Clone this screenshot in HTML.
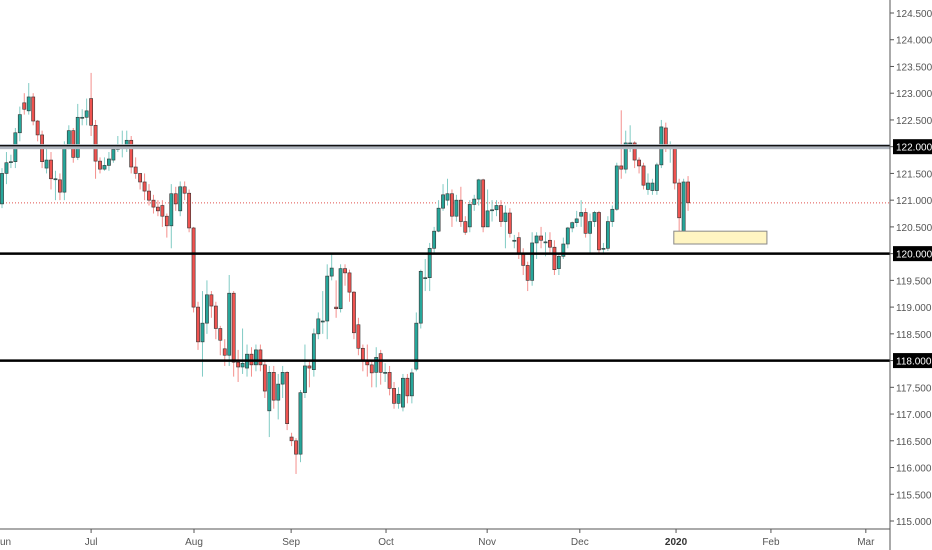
<!DOCTYPE html>
<html><head><meta charset="utf-8">
<style>
html,body{margin:0;padding:0;background:#fff;}
svg{display:block;font-family:"Liberation Sans",sans-serif;}
</style></head>
<body>
<svg id="chart" width="932" height="550" viewBox="0 0 932 550" xmlns="http://www.w3.org/2000/svg">
<rect x="0" y="0" width="932" height="550" fill="#ffffff"/>
<g id="candles"></g>
<g id="overlay"></g>
<g id="axes"></g>
</svg>
<script>
const opens=[120.93,121.50,121.72,121.72,122.26,122.82,122.67,122.93,122.48,122.22,121.60,121.75,121.40,121.38,121.15,122.00,122.30,121.80,122.55,122.55,122.90,122.40,121.73,121.58,121.65,121.75,121.95,122.00,122.00,122.12,121.62,121.50,121.34,121.17,121.00,120.87,120.90,120.70,120.52,121.12,120.80,121.25,121.13,120.48,119.00,118.35,118.70,119.23,119.02,118.60,118.22,118.10,119.26,117.97,117.88,117.86,118.12,117.92,118.20,117.92,117.06,117.78,117.26,117.56,117.78,116.57,116.50,116.25,117.40,117.90,117.83,118.50,118.74,118.74,119.58,119.00,118.97,119.72,119.64,119.28,118.67,118.23,118.00,117.92,117.78,118.13,117.78,117.78,117.48,117.20,117.13,117.67,117.34,117.84,118.70,119.55,119.55,120.10,120.42,120.85,121.00,121.12,120.70,121.00,120.60,120.50,120.92,121.02,121.38,120.50,120.82,120.82,120.90,120.60,120.76,120.25,120.30,120.00,119.78,119.50,120.20,120.33,120.22,120.25,120.12,119.72,119.95,120.18,120.48,120.58,120.70,120.77,120.38,120.60,120.77,120.10,120.10,120.60,120.83,121.64,121.58,122.07,122.07,121.75,121.64,121.20,121.18,121.18,121.66,122.35,121.98,121.96,121.32,120.42,121.34];
const closes=[121.50,121.70,121.72,122.26,122.60,122.70,122.93,122.48,122.22,121.72,121.75,121.40,121.40,121.15,122.00,122.30,121.80,122.55,122.55,122.67,122.40,121.73,121.58,121.65,121.77,121.95,122.00,122.00,122.12,121.62,121.50,121.34,121.17,121.00,120.87,120.80,120.70,120.52,121.12,120.93,121.25,121.13,120.48,119.00,118.35,118.70,119.23,119.02,118.60,118.38,118.10,119.26,117.97,117.88,117.95,118.12,117.92,118.20,117.92,117.43,117.78,117.26,117.56,117.78,116.82,116.50,116.25,117.40,117.90,117.86,118.50,118.78,118.74,119.58,119.73,118.97,119.72,119.64,119.28,118.52,118.23,118.00,117.92,117.77,118.06,117.78,117.78,117.48,117.20,117.37,117.67,117.34,117.77,118.70,119.67,119.55,120.10,120.42,120.85,121.10,121.12,120.70,121.00,120.60,120.40,120.92,121.02,121.38,120.50,120.80,120.82,120.90,120.60,120.76,120.38,120.25,120.00,119.78,119.50,120.20,120.33,120.25,120.22,120.12,119.70,119.95,120.18,120.48,120.58,120.65,120.77,120.38,120.60,120.77,120.07,120.10,120.60,120.83,121.64,121.58,122.07,122.07,121.75,121.64,121.28,121.32,121.32,121.66,122.37,121.98,121.98,121.32,120.67,121.34,120.95];
const highs=[121.6,121.9,121.85,122.35,122.75,123.0,123.19,123.0,122.5,122.3,122.0,121.9,121.55,121.5,122.1,122.4,122.35,122.8,122.7,122.9,123.38,122.5,121.8,121.8,121.9,122.0,122.2,122.3,122.3,122.2,121.8,121.5,121.5,121.3,121.1,121.0,121.0,120.75,121.3,121.25,121.35,121.35,121.2,120.5,119.1,119.3,119.5,119.3,119.1,118.65,118.4,119.6,119.3,118.2,118.6,118.3,118.25,118.3,118.3,118.0,117.9,117.9,117.75,117.9,117.8,116.65,116.55,117.45,118.3,118.0,118.6,118.9,119.3,119.8,120.0,119.5,119.8,119.8,119.7,119.3,118.8,118.3,118.3,118.0,118.25,118.2,117.95,117.9,117.6,117.5,117.75,117.75,117.85,118.9,119.7,119.9,120.2,120.5,121.0,121.3,121.4,121.2,121.1,121.25,120.7,121.0,121.1,121.4,121.4,121.2,121.0,121.0,121.0,120.9,120.85,120.35,120.4,120.1,119.85,120.4,120.4,120.5,120.4,120.4,120.25,120.0,120.3,120.5,120.6,120.8,121.0,120.85,120.75,120.8,120.8,120.2,120.7,120.9,121.7,122.68,122.3,122.4,122.1,121.8,121.7,121.5,121.4,121.7,122.5,122.45,122.1,122.0,121.4,121.4,121.45];
const lows=[120.85,121.3,121.6,121.6,122.1,122.6,122.6,122.4,122.1,121.6,121.5,121.2,121.0,121.0,121.0,121.95,121.7,121.75,122.4,122.4,122.2,121.4,121.5,121.55,121.55,121.7,121.9,121.8,121.9,121.5,121.4,121.2,121.0,120.9,120.75,120.7,120.5,120.3,120.1,120.8,120.7,121.0,120.4,118.9,118.2,117.7,118.5,118.8,118.4,118.1,117.9,117.9,117.7,117.6,117.75,117.7,117.7,117.8,117.8,117.3,116.57,117.1,116.9,117.3,116.7,116.4,115.88,116.1,117.3,117.5,117.7,118.4,118.5,118.4,119.5,118.8,118.9,119.4,119.1,118.4,118.1,117.8,117.7,117.5,117.5,117.55,117.6,117.35,117.1,117.1,117.05,117.2,117.2,117.8,118.6,119.3,119.3,120.0,120.4,120.8,120.9,120.5,120.6,120.5,120.35,120.4,120.8,120.9,120.4,120.5,120.6,120.7,120.5,120.1,120.3,120.1,119.9,119.6,119.3,119.4,119.9,120.1,119.95,120.0,119.6,119.6,119.9,120.1,120.4,120.5,120.5,120.3,120.0,120.5,120.0,120.0,120.05,120.5,120.8,121.4,121.5,121.9,121.6,121.5,121.2,121.1,121.1,121.1,121.6,121.9,121.7,121.2,120.4,120.2,120.8];
const levels=[122.0,120.0,118.0];
const priceTicks=[124.5,124.0,123.5,123.0,122.5,122.0,121.5,121.0,120.5,120.0,119.5,119.0,118.5,118.0,117.5,117.0,116.5,116.0,115.5,115.0];
const monthLabels=["un","Jul","Aug","Sep","Oct","Nov","Dec","2020","Feb","Mar"];
const monthIndex=[-19,20,43.1,64.9,86.2,108.9,129.7,151.3,172.6,193.9];
const lastPrice=120.95;
const zoneTop=120.42, zoneBottom=120.18, zoneStartIdx=150.8, zoneEndIdx=171.7;

const NS="http://www.w3.org/2000/svg";
const yOf=p=>13+(124.5-p)*(508/9.5);
const xOf=i=>2+i*4.455;
const PLOT_R=890;
function mk(tag,attrs,parent){const e=document.createElementNS(NS,tag);for(const k in attrs)e.setAttribute(k,attrs[k]);parent.appendChild(e);return e;}
const gC=document.getElementById('candles'),gO=document.getElementById('overlay'),gA=document.getElementById('axes');

const cp=mk('line',{x1:0,x2:PLOT_R,y1:yOf(lastPrice),y2:yOf(lastPrice),stroke:'#e0504c','stroke-width':1,'stroke-dasharray':'1,2'},gC);



for(let i=0;i<opens.length;i++){
  const o=opens[i],c=closes[i],up=c>=o;
  const col=up?'#26a69a':'#ef5350';
  const x=xOf(i);
  const w=mk('line',{x1:x,x2:x,y1:yOf(highs[i]),y2:yOf(lows[i]),stroke:up?'#80cbc4':'#f48f8c','stroke-width':1},gC);
  
  
  const yt=yOf(Math.max(o,c)),yb=yOf(Math.min(o,c));
  const b=mk('rect',{x:x-1.6,y:yt,width:3.2,height:Math.max(1,yb-yt),fill:col,stroke:'#333','stroke-width':0.6},gC);
  
  
}

levels.forEach((lv,k)=>{
  if(k===0){
    const g=mk('rect',{x:0,y:yOf(lv)-2.5,width:PLOT_R,height:5,fill:'#b0b6bf'},gO);
    
    
    const l1=mk('line',{x1:0,x2:PLOT_R,y1:yOf(lv)-1,y2:yOf(lv)-1,stroke:'#111','stroke-width':1.4},gO);
    
    
  } else {
    const l=mk('line',{x1:0,x2:PLOT_R,y1:yOf(lv),y2:yOf(lv),stroke:'#000','stroke-width':2.5},gO);
    
    
  }
});

const z=mk('rect',{x:xOf(zoneStartIdx),y:yOf(zoneTop),width:xOf(zoneEndIdx)-xOf(zoneStartIdx),height:yOf(zoneBottom)-yOf(zoneTop),fill:'#fff5c2',stroke:'#888','stroke-width':1},gO);



const va=mk('line',{x1:PLOT_R,x2:PLOT_R,y1:0,y2:550,stroke:'#555','stroke-width':1},gA);


const ha=mk('line',{x1:0,x2:PLOT_R,y1:529,y2:529,stroke:'#555','stroke-width':1},gA);



priceTicks.forEach(p=>{
  const y=yOf(p);
  const t=mk('line',{x1:PLOT_R,x2:PLOT_R+4,y1:y,y2:y,stroke:'#555'},gA);
  
  
  const isLv=levels.includes(p);
  if(isLv){
    const bg=mk('rect',{x:PLOT_R+3,y:y-7.5,width:40,height:15,fill:'#000'},gA);
    
    
  }
  const tx=mk('text',{x:PLOT_R+6,y:y+4,'font-size':10,fill:isLv?'#fff':'#555'},gA);
  tx.textContent=p.toFixed(3);
  
  
});

monthLabels.forEach((m,k)=>{
  const x=xOf(monthIndex[k]);
  const t=mk('line',{x1:x,x2:x,y1:529,y2:533,stroke:'#555'},gA);
  
  
  const tx=mk('text',{x:x,y:545,'font-size':10,fill:m==='2020'?'#333':'#555','font-weight':m==='2020'?'bold':'normal','text-anchor':k===0?'start':'middle'},gA);
  if(k===0) tx.setAttribute('x',0);
  tx.textContent=m;
  
  
});
</script>
</body></html>
